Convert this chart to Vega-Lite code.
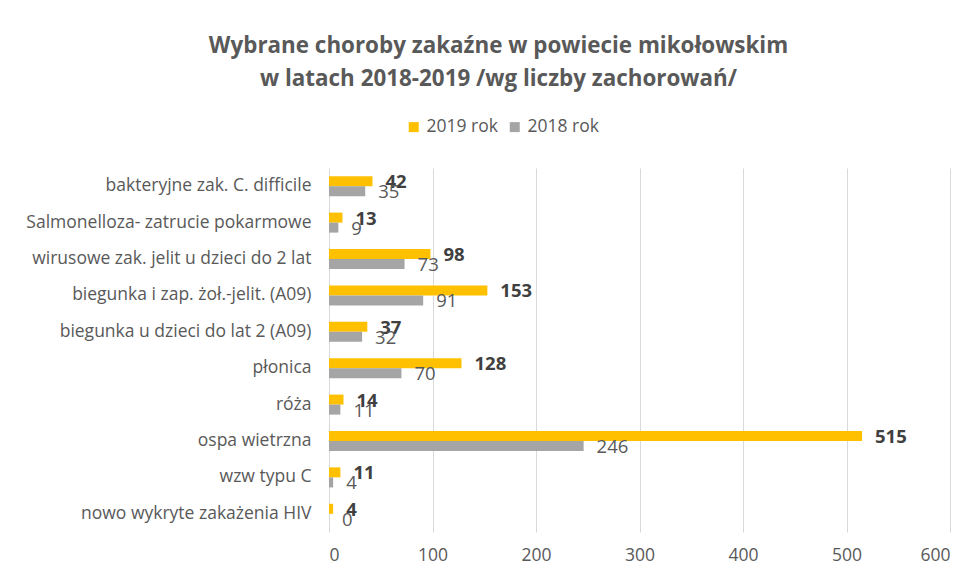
{
  "$schema": "https://vega.github.io/schema/vega-lite/v6.json",
  "autosize": {"type": "none"},
  "width": 621,
  "height": 364,
  "padding": {"left": 329, "top": 168, "right": 25, "bottom": 44},
  "background": "white",
  "title": {
    "text": ["Wybrane choroby zakaźne w powiecie mikołowskim", "w latach 2018-2019 /wg liczby zachorowań/"],
    "anchor": "middle",
    "dx": -141,
    "offset": 28,
    "font": "Open Sans",
    "fontSize": 22.4,
    "fontWeight": "bold",
    "color": "#595959",
    "lineHeight": 33
  },
  "config": {
    "view": {"stroke": null},
    "font": "Open Sans"
  },
  "data": {
    "values": [
      {"choroba": "bakteryjne zak. C. difficile", "rok": "2019 rok", "wartosc": 42},
      {"choroba": "Salmonelloza- zatrucie pokarmowe", "rok": "2019 rok", "wartosc": 13},
      {"choroba": "wirusowe zak. jelit u dzieci do 2 lat", "rok": "2019 rok", "wartosc": 98},
      {"choroba": "biegunka i zap. żoł.-jelit. (A09)", "rok": "2019 rok", "wartosc": 153},
      {"choroba": "biegunka u dzieci do lat 2 (A09)", "rok": "2019 rok", "wartosc": 37},
      {"choroba": "płonica", "rok": "2019 rok", "wartosc": 128},
      {"choroba": "róża", "rok": "2019 rok", "wartosc": 14},
      {"choroba": "ospa wietrzna", "rok": "2019 rok", "wartosc": 515},
      {"choroba": "wzw typu C", "rok": "2019 rok", "wartosc": 11},
      {"choroba": "nowo wykryte zakażenia HIV", "rok": "2019 rok", "wartosc": 4},
      {"choroba": "bakteryjne zak. C. difficile", "rok": "2018 rok", "wartosc": 35},
      {"choroba": "Salmonelloza- zatrucie pokarmowe", "rok": "2018 rok", "wartosc": 9},
      {"choroba": "wirusowe zak. jelit u dzieci do 2 lat", "rok": "2018 rok", "wartosc": 73},
      {"choroba": "biegunka i zap. żoł.-jelit. (A09)", "rok": "2018 rok", "wartosc": 91},
      {"choroba": "biegunka u dzieci do lat 2 (A09)", "rok": "2018 rok", "wartosc": 32},
      {"choroba": "płonica", "rok": "2018 rok", "wartosc": 70},
      {"choroba": "róża", "rok": "2018 rok", "wartosc": 11},
      {"choroba": "ospa wietrzna", "rok": "2018 rok", "wartosc": 246},
      {"choroba": "wzw typu C", "rok": "2018 rok", "wartosc": 4},
      {"choroba": "nowo wykryte zakażenia HIV", "rok": "2018 rok", "wartosc": 0}
    ]
  },
  "encoding": {
    "y": {
      "field": "choroba",
      "type": "nominal",
      "sort": ["bakteryjne zak. C. difficile", "Salmonelloza- zatrucie pokarmowe", "wirusowe zak. jelit u dzieci do 2 lat", "biegunka i zap. żoł.-jelit. (A09)", "biegunka u dzieci do lat 2 (A09)", "płonica", "róża", "ospa wietrzna", "wzw typu C", "nowo wykryte zakażenia HIV"],
      "scale": {"paddingInner": 0.45, "paddingOuter": 0.225},
      "axis": {
        "title": null,
        "domain": false,
        "ticks": false,
        "labelPadding": 18,
        "labelFontSize": 17.5,
        "labelColor": "#595959",
        "labelLimit": 400,
        "labelFont": "Open Sans"
      }
    },
    "yOffset": {
      "field": "rok",
      "type": "nominal",
      "sort": ["2019 rok", "2018 rok"]
    },
    "x": {
      "field": "wartosc",
      "type": "quantitative",
      "scale": {"domain": [0, 600], "nice": false},
      "axis": {
        "title": null,
        "domain": false,
        "ticks": false,
        "values": [0, 100, 200, 300, 400, 500, 600],
        "grid": true,
        "gridColor": "#d9d9d9",
        "labelPadding": 14,
        "labelFontSize": 17.5,
        "labelColor": "#595959",
        "labelFont": "Open Sans"
      }
    }
  },
  "layer": [
    {
      "mark": {"type": "bar"},
      "encoding": {
        "color": {
          "field": "rok",
          "type": "nominal",
          "sort": ["2019 rok", "2018 rok"],
          "scale": {"domain": ["2019 rok", "2018 rok"], "range": ["#FFC000", "#A5A5A5"]},
          "legend": {
            "title": null,
            "orient": "none",
            "direction": "horizontal",
            "legendX": 76,
            "legendY": -50,
            "symbolType": "square",
            "symbolSize": 100,
            "symbolStrokeWidth": 0,
            "labelFontSize": 17.5,
            "labelColor": "#595959",
            "labelFont": "Open Sans",
            "labelOffset": 4,
            "columnPadding": 8
          }
        }
      }
    },
    {
      "transform": [{"filter": "datum.rok == '2019 rok'"}],
      "mark": {"type": "text", "align": "left", "baseline": "middle", "dx": 13, "dy": 1, "fontSize": 18.5, "fontWeight": "bold", "color": "#404040", "font": "Open Sans"},
      "encoding": {"text": {"field": "wartosc", "type": "quantitative"}}
    },
    {
      "transform": [{"filter": "datum.rok == '2018 rok'"}],
      "mark": {"type": "text", "align": "left", "baseline": "middle", "dx": 13, "dy": 1, "fontSize": 18.5, "color": "#595959", "font": "Open Sans"},
      "encoding": {"text": {"field": "wartosc", "type": "quantitative"}}
    }
  ]
}
